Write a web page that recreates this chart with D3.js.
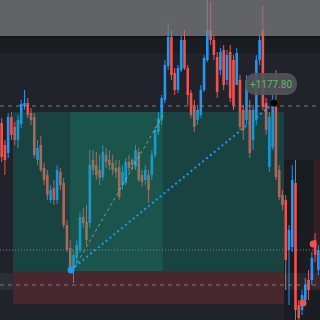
<!DOCTYPE html>
<html>
<head>
<meta charset="utf-8">
<script src="https://cdn.jsdelivr.net/npm/d3@7"></script>
<style>
  html, body { margin: 0; padding: 0; background: #20242a; }
  svg { display: block; }
</style>
</head>
<body>
<svg id="chart" width="320" height="320"></svg>
<script>
// OHLC series, one entry per bar
const opens  = [2319.7,2317.5,2316.7,2320.3,2319.3,2318.0,2319.6,2321.4,2321.7,2320.7,
                2320.3,2316.0,2317.5,2315.2,2314.5,2312.0,2313.2,2312.0,2314.8,2313.7,
                2309.5,2307.2,2305.2,2306.2,2307.0,2310.3,2309.8,2309.7,2316.0,2315.5,
                2315.0,2314.3,2316.5,2316.0,2315.7,2315.2,2315.3,2313.5,2313.7,2315.8,
                2316.0,2315.3,2316.8,2314.5,2314.0,2314.5,2314.5,2316.5,2318.8,2320.0,
                2322.0,2325.4,2328.3,2324.7,2323.0,2325.0,2328.0,2325.2,2322.7,2321.3,
                2320.0,2320.5,2323.0,2326.0,2329.0,2328.0,2326.3,2325.0,2327.0,2324.0,
                2326.8,2326.0,2323.5,2324.0,2321.0,2320.0,2321.0,2318.0,2320.0,2326.0,
                2329.0,2321.7,2315.3,2317.3,2321.3,2315.0,2312.5,2312.0,2307.0,2307.3,
                2313.7,2301.5,2301.0,2302.0,2304.0,2304.0,2308.0,2305.0];
const highs  = [2320.2,2318.0,2320.7,2320.8,2319.8,2320.5,2322.0,2323.0,2322.2,2321.2,
                2320.7,2318.0,2318.4,2315.7,2315.0,2313.5,2314.0,2315.5,2315.2,2314.2,
                2310.0,2308.0,2307.0,2308.0,2310.8,2311.2,2311.5,2317.0,2317.0,2316.8,
                2316.5,2317.5,2317.2,2317.0,2316.5,2316.0,2316.0,2315.5,2316.2,2316.5,
                2316.2,2317.5,2317.2,2315.0,2315.5,2315.0,2317.0,2319.3,2320.8,2322.5,
                2326.0,2329.7,2329.0,2325.2,2325.5,2328.5,2329.0,2325.5,2323.0,2322.0,
                2321.5,2323.5,2326.5,2332.0,2331.8,2328.5,2326.8,2327.2,2327.5,2327.0,
                2327.5,2326.5,2327.2,2324.5,2321.5,2324.5,2322.0,2321.5,2326.5,2328.5,
                2331.4,2322.2,2320.8,2322.5,2325.0,2315.5,2313.0,2312.5,2309.5,2315.5,
                2316.0,2302.0,2303.0,2304.2,2305.0,2306.8,2308.7,2307.5];
const lows   = [2315.8,2314.5,2316.2,2318.0,2317.5,2317.2,2319.2,2321.0,2320.2,2319.5,
                2316.2,2315.5,2314.8,2313.5,2312.0,2311.7,2311.5,2311.6,2313.0,2309.2,
                2306.8,2304.8,2303.7,2305.5,2306.7,2309.2,2307.5,2309.2,2314.5,2314.0,
                2313.5,2314.0,2315.2,2315.0,2314.5,2314.2,2312.0,2313.0,2313.5,2314.8,
                2315.0,2315.0,2313.8,2313.3,2313.5,2311.7,2314.0,2316.2,2318.5,2319.5,
                2321.7,2325.0,2324.0,2322.5,2322.7,2324.8,2325.0,2321.5,2320.2,2318.8,
                2319.5,2320.2,2322.8,2325.8,2327.5,2326.0,2322.2,2324.5,2323.0,2323.5,
                2321.8,2321.0,2323.5,2319.0,2318.0,2319.5,2316.2,2317.0,2319.5,2325.5,
                2321.0,2318.5,2314.8,2317.0,2314.0,2312.0,2311.0,2303.0,2301.5,2306.8,
                2300.0,2299.8,2300.5,2301.5,2302.0,2303.5,2305.8,2304.5];
const closes = [2316.3,2316.0,2320.3,2318.5,2318.0,2320.0,2321.6,2321.7,2320.5,2320.0,
                2316.5,2317.2,2315.0,2314.0,2312.5,2313.0,2312.0,2315.0,2313.5,2309.5,
                2307.0,2305.2,2306.5,2307.5,2310.3,2309.7,2308.0,2315.5,2315.0,2314.5,
                2314.2,2316.8,2315.8,2315.5,2315.0,2314.8,2312.3,2314.8,2315.8,2315.2,
                2315.5,2317.0,2314.0,2313.8,2315.0,2313.0,2316.5,2319.0,2320.2,2322.2,
                2325.5,2328.3,2324.5,2323.0,2325.2,2328.0,2325.2,2322.5,2320.5,2319.3,
                2321.0,2323.0,2326.2,2329.0,2328.0,2326.5,2322.8,2326.8,2323.5,2326.5,
                2322.2,2321.5,2326.7,2319.3,2319.0,2324.0,2316.7,2321.0,2326.0,2328.0,
                2321.3,2319.0,2320.3,2322.0,2314.3,2312.3,2311.5,2306.0,2309.0,2314.0,
                2301.0,2300.2,2302.5,2303.5,2303.0,2306.2,2306.5,2307.0];

// Price levels of the long-position tool and guide lines
const profitLevel = 2320.8;
const entryLevel  = 2304.9;
const stopLevel   = 2301.6;
const positionBars = [3.5, 86.5];      // bar span of the position tool
const rangeBars    = [21, 49.4];       // highlighted bar range
const dashedLevels = [2321.4, 2303.5];
const dottedLevel  = 2307.0;

// Trend line anchors (bar, price)
const trendLine  = [[21.25, 2305.0], [83.4, 2321.7]];
const rangeLine  = [[22.2, 2305.2], [50.0, 2320.8]];
const stopMarks  = [[95.4, 2307.6], [92.3, 2301.7]];
const pnlLabel   = { bar: 82.5, price: 2323.6, text: "+1177.80" };

const W = 320, H = 320;
const svg = d3.select("#chart");
const n = opens.length;
const x = d3.scaleLinear().domain([-0.5, n - 0.5]).range([0, W]);
const y = d3.scaleLinear().domain([2300, 2332]).range([H, 0]);

const bars = d3.range(n).map(i => ({ i, o: opens[i], h: highs[i], l: lows[i], c: closes[i] }));
const bx0 = x(positionBars[0]), bx1 = x(positionBars[1]);

// background and toolbar band
svg.append("rect").attr("width", W).attr("height", H).attr("fill", "#20242a");
svg.append("rect").attr("x", 0).attr("y", 36).attr("width", W).attr("height", 17).attr("fill", "#1a1e22");
svg.append("rect").attr("x", 0).attr("y", 36).attr("width", W).attr("height", 2).attr("fill", "#121518");
// darker pane right of the position tool
svg.append("rect").attr("x", bx1).attr("y", 160).attr("width", W - bx1).attr("height", H - 160)
  .attr("fill", "#000").attr("fill-opacity", 0.22);

// candles
const up = "#2196f3", down = "#ef5350";
const g = svg.append("g");
g.selectAll("line.wick").data(bars).join("line")
  .attr("x1", d => x(d.i)).attr("x2", d => x(d.i))
  .attr("y1", d => y(d.h)).attr("y2", d => y(d.l))
  .attr("stroke", d => d.c >= d.o ? up : down).attr("stroke-width", 1);
const bw = 2.6;
g.selectAll("rect.body").data(bars).join("rect")
  .attr("x", d => x(d.i) - bw / 2)
  .attr("y", d => y(Math.max(d.o, d.c)))
  .attr("width", bw)
  .attr("height", d => Math.max(1, Math.abs(y(d.o) - y(d.c))))
  .attr("fill", d => d.c >= d.o ? up : down);

// position tool: profit and stop zones
svg.append("rect").attr("x", bx0).attr("y", y(profitLevel))
  .attr("width", bx1 - bx0).attr("height", y(entryLevel) - y(profitLevel))
  .attr("fill", "#089981").attr("fill-opacity", 0.27);
svg.append("rect").attr("x", bx0).attr("y", y(entryLevel))
  .attr("width", bx1 - bx0).attr("height", y(stopLevel) - y(entryLevel))
  .attr("fill", "#f23645").attr("fill-opacity", 0.2);
svg.append("rect").attr("x", x(rangeBars[0])).attr("y", y(profitLevel))
  .attr("width", x(rangeBars[1]) - x(rangeBars[0])).attr("height", y(entryLevel) - y(profitLevel))
  .attr("fill", "#22a774").attr("fill-opacity", 0.18);
// side zones beside the stop box
svg.append("rect").attr("x", 0).attr("y", y(entryLevel) + 2)
  .attr("width", bx0).attr("height", 17).attr("fill", "#ffffff").attr("fill-opacity", 0.05);
svg.append("rect").attr("x", bx1).attr("y", y(entryLevel) + 2)
  .attr("width", W - bx1).attr("height", 17).attr("fill", "#ffffff").attr("fill-opacity", 0.05);
svg.append("rect").attr("x", x(95.5)).attr("y", 160)
  .attr("width", W - x(95.5)).attr("height", y(entryLevel) + 19 - 160)
  .attr("fill", "#f23645").attr("fill-opacity", 0.13);

// horizontal guides
dashedLevels.forEach((p, k) => {
  svg.append("line").attr("x1", 0).attr("x2", W).attr("y1", y(p)).attr("y2", y(p))
    .attr("stroke", k === 0 ? "#8d9095" : "#9a7f86").attr("stroke-width", 1)
    .attr("stroke-dasharray", "4,4").attr("stroke-opacity", 0.85);
});
svg.append("line").attr("x1", 0).attr("x2", W).attr("y1", y(dottedLevel)).attr("y2", y(dottedLevel))
  .attr("stroke", "#8f7896").attr("stroke-width", 1).attr("stroke-dasharray", "1,2");

// diagonal range line and trend line
svg.append("line")
  .attr("x1", x(rangeLine[0][0])).attr("y1", y(rangeLine[0][1]))
  .attr("x2", x(rangeLine[1][0])).attr("y2", y(rangeLine[1][1]))
  .attr("stroke", "#b9ddd0").attr("stroke-opacity", 0.55).attr("stroke-width", 1)
  .attr("stroke-dasharray", "3,3");
svg.append("line")
  .attr("x1", x(trendLine[0][0])).attr("y1", y(trendLine[0][1]))
  .attr("x2", x(trendLine[1][0])).attr("y2", y(trendLine[1][1]))
  .attr("stroke", "#2196f3").attr("stroke-width", 2)
  .attr("stroke-dasharray", "2,3");

// anchor points
svg.append("circle").attr("cx", x(trendLine[0][0])).attr("cy", y(trendLine[0][1]))
  .attr("r", 3.5).attr("fill", "#2196f3");
svg.append("circle").attr("cx", x(trendLine[1][0])).attr("cy", y(trendLine[1][1]))
  .attr("r", 3.5).attr("fill", "#050505");
stopMarks.forEach(([b, p]) => {
  svg.append("circle").attr("cx", x(b)).attr("cy", y(p)).attr("r", 3.5).attr("fill", "#ef5350");
});

// P&L bubble
const lx = x(pnlLabel.bar), ly = y(pnlLabel.price);
svg.append("rect").attr("x", lx - 26).attr("y", ly - 11).attr("width", 52).attr("height", 22)
  .attr("rx", 10).attr("fill", "#50555a").attr("fill-opacity", 0.92);
svg.append("text").attr("x", lx).attr("y", ly + 3.5).attr("text-anchor", "middle")
  .attr("font-family", "Roboto, 'Noto Sans', sans-serif").attr("font-size", 10)
  .attr("fill", "#5cb85c").text(pnlLabel.text);

// translucent top overlay
svg.append("rect").attr("x", 0).attr("y", 0).attr("width", W).attr("height", 36)
  .attr("fill", "#818283").attr("fill-opacity", 0.68);
</script>
</body>
</html>
